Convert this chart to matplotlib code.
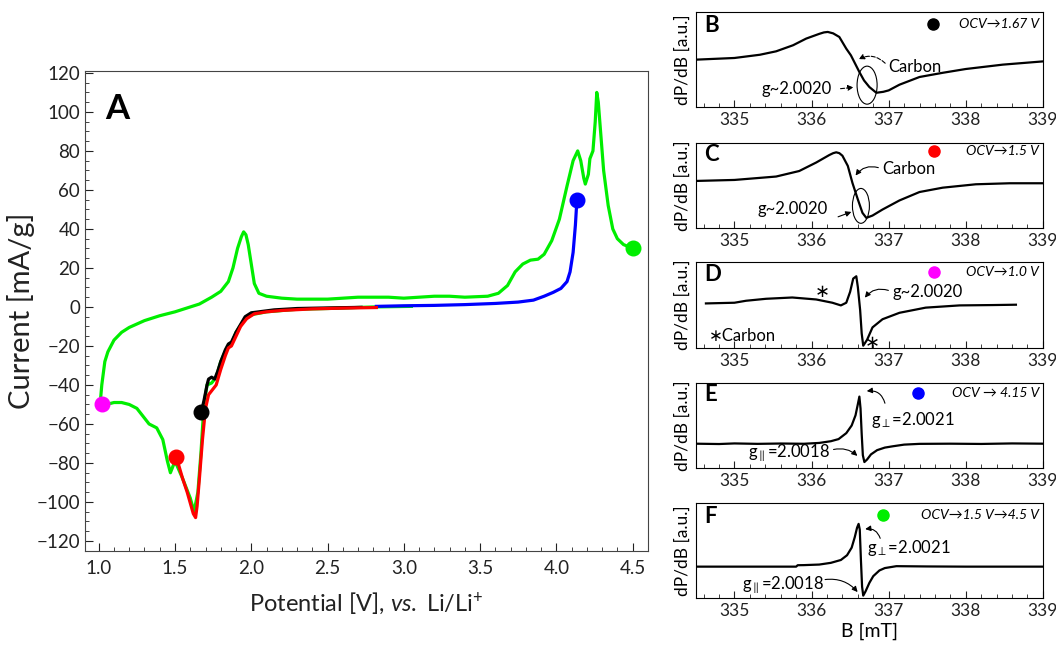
import matplotlib
matplotlib.use("Agg")
import matplotlib.pyplot as plt
from matplotlib.patches import Ellipse
from matplotlib.ticker import MultipleLocator

plt.rcParams["font.family"] = ["Lato", "DejaVu Sans"]
plt.rcParams["mathtext.fontset"] = "custom"
plt.rcParams["mathtext.rm"] = "Lato"
plt.rcParams["mathtext.it"] = "Lato:italic"

# ---- panel A: cyclic voltammetry ----
green_v = [3.05, 2.8, 2.5, 2.3, 2.1, 2.0, 1.95, 1.9, 1.87, 1.84, 1.8, 1.77, 1.74, 1.71, 1.69,
           1.67, 1.65, 1.625, 1.6, 1.55, 1.5, 1.47, 1.45, 1.42, 1.38, 1.33, 1.3, 1.25, 1.2,
           1.15, 1.1, 1.05, 1.02, 1.01, 1.02, 1.04, 1.06, 1.1, 1.15, 1.2, 1.3, 1.4, 1.5, 1.6,
           1.66, 1.74, 1.8, 1.85, 1.88, 1.91, 1.935, 1.95, 1.965, 1.98, 2.0, 2.02, 2.05, 2.1,
           2.2, 2.3, 2.5, 2.7, 2.9, 3.0, 3.2, 3.3, 3.4, 3.55, 3.62, 3.68, 3.73, 3.78, 3.83,
           3.88, 3.92, 3.97, 4.02, 4.07, 4.11, 4.14, 4.16, 4.18, 4.19, 4.21, 4.22, 4.24,
           4.255, 4.265, 4.275, 4.29, 4.31, 4.34, 4.37, 4.4, 4.44, 4.5]
green_i = [0.3, 0, -0.8, -1.2, -2.5, -4, -7, -13, -19, -21, -28, -36, -39, -40, -50,
           -75, -95, -105, -98, -88, -79, -85, -79, -68, -62, -60, -57, -52, -50,
           -49, -49, -50, -50, -49, -40, -28, -23, -17, -13, -10.5, -7, -4.5, -2.5, 0,
           1.5, 5, 8, 13, 20, 30, 36, 38.5, 37, 32, 22, 12, 7, 5.5,
           4.5, 4, 4, 5, 5, 4.5, 5.5, 5.5, 5, 5.5, 7, 11, 18, 22, 24,
           24.5, 27, 34, 45, 62, 75, 80, 75, 66, 63, 68, 76, 80,
           95, 110, 105, 90, 70, 52, 40, 35, 32, 30]

blue_v = [2.82, 3.0, 3.2, 3.4, 3.6, 3.75, 3.85, 3.92, 3.98, 4.03, 4.07, 4.09, 4.11, 4.125, 4.135]
blue_i = [0.3, 0.6, 0.8, 1.2, 1.8, 2.5, 3.5, 5.5, 7.5, 9.5, 13, 18, 28, 42, 55]

black_v = [2.72, 2.5, 2.3, 2.15, 2.05, 2.0, 1.96, 1.93, 1.9, 1.87, 1.85, 1.83, 1.8, 1.78,
           1.76, 1.74, 1.72, 1.71, 1.69, 1.672]
black_i = [-0.2, -0.5, -0.8, -1.5, -2.5, -3, -5, -9, -13, -18, -19, -22, -28, -33,
           -37, -36, -37, -40, -48, -54]

red_v = [2.82, 2.6, 2.4, 2.2, 2.1, 2.02, 1.97, 1.93, 1.9, 1.87, 1.85, 1.83, 1.8, 1.77,
         1.74, 1.72, 1.7, 1.68, 1.66, 1.645, 1.635, 1.62, 1.58, 1.55, 1.52, 1.506]
red_i = [-0.3, -0.6, -1, -1.8, -2.5, -3.5, -6, -10, -15, -20, -21, -25, -32, -40,
         -43, -45, -52, -68, -88, -102, -108, -106, -95, -88, -80, -77]

# end points of each scan (dots)
dot_v = [1.672, 1.506, 1.022, 4.135, 4.5]
dot_i = [-54, -77, -50, 55, 30]
dot_colors = ["black", "red", "#ff00ff", "blue", "#00ee00"]

# ---- EPR spectra (a.u., 0 = bottom, 100 = top) ----
b_field_B = [334.49, 335.0, 335.33, 335.54, 335.76, 335.93, 336.1, 336.16, 336.21, 336.28,
             336.36, 336.45, 336.51, 336.62, 336.68, 336.75, 336.84, 336.93, 337.0, 337.14,
             337.4, 337.7, 338.0, 338.48, 339.0]
epr_B = [49.8, 51.6, 55, 58.6, 65, 72, 77, 78.5, 79, 77.5,
         73.7, 61.4, 54.4, 36.8, 28, 21, 15, 16, 17.5, 23.5,
         31.6, 36, 40, 44.6, 48]

b_field_C = [334.49, 335.0, 335.54, 335.84, 336.06, 336.23, 336.28, 336.32, 336.36, 336.4,
             336.47, 336.53, 336.6, 336.66, 336.71, 336.79, 336.92, 337.14, 337.4, 337.7,
             338.13, 338.57, 339.0]
epr_C = [55.3, 56.5, 60.5, 67, 77, 85.8, 88, 89, 88, 85,
         73, 53, 33.6, 17.8, 11.9, 14.6, 21.7, 32.4, 42.3, 47.4,
         51.4, 52.6, 52.6]

b_field_D = [334.63, 335.0, 335.15, 335.41, 335.75, 336.06, 336.27, 336.38, 336.45, 336.5,
             336.54, 336.58, 336.6, 336.63, 336.65, 336.67, 336.72, 336.79, 336.92, 337.14,
             337.48, 337.92, 338.35, 338.65]
epr_D = [51.9, 52.7, 55, 57.3, 58.8, 56.5, 52.7, 49.6, 52.7, 65.4,
         80.8, 83.5, 71, 44, 17, 2.7, 9.6, 24, 33.5, 41,
         47, 49.6, 50, 50.4]

b_field_E = [334.49, 334.8, 335.0, 335.3, 335.6, 335.9, 336.1, 336.25, 336.35, 336.45,
             336.52, 336.57, 336.6, 336.62, 336.635, 336.65, 336.665, 336.685, 336.72,
             336.77, 336.85, 336.95, 337.05, 337.2, 337.4, 337.8, 338.2, 338.6, 339.0]
epr_E = [28.6, 28.2, 28.9, 28.4, 28.8, 28.5, 29.5, 31.5, 34, 41,
         50, 62, 75, 84, 70, 40, 15, 7, 10,
         16, 21, 24, 25.5, 27.5, 28.4, 28.6, 28.3, 28.9, 28.6]

b_field_F = [334.49, 335.0, 335.5, 335.8, 335.82, 335.9, 336.1, 336.25, 336.38, 336.46,
             336.52, 336.56, 336.59, 336.61, 336.625, 336.64, 336.655, 336.67, 336.7,
             336.75, 336.8, 336.88, 336.95, 337.1, 337.5, 338.0, 339.0]
epr_F = [33, 33, 33, 33, 34.5, 34.6, 35.2, 37, 40, 45,
         53, 64, 74, 78, 72, 40, 12, 2.5, 7,
         16, 23, 29, 31.5, 33.5, 33.2, 33, 33]

fig = plt.figure(figsize=(10.56, 6.51), dpi=100)

# panel A
ax = fig.add_axes([0.0805, 0.154, 0.533, 0.737])
lw = 2.3
ax.plot(green_v, green_i, color="#00ee00", lw=lw)
ax.plot(blue_v, blue_i, color="blue", lw=lw)
ax.plot(black_v, black_i, color="black", lw=lw)
ax.plot(red_v, red_i, color="red", lw=lw)
for v, i, c in zip(dot_v, dot_i, dot_colors):
    ax.plot(v, i, "o", color=c, ms=10.5, zorder=5)
ax.set_xlim(0.91, 4.6)
ax.set_ylim(-125, 121)
ax.set_xticks([1.0, 1.5, 2.0, 2.5, 3.0, 3.5, 4.0, 4.5])
ax.set_yticks(range(-120, 121, 20))
ax.xaxis.set_minor_locator(MultipleLocator(0.1))
ax.yaxis.set_minor_locator(MultipleLocator(5))
ax.tick_params(direction="in", which="both", labelsize=13.5, colors="#222222")
ax.tick_params(which="major", length=6)
ax.tick_params(which="minor", length=3)
ax.tick_params(axis="x", pad=7)
for s in ax.spines.values():
    s.set_color("#444444")
ax.set_xlabel("Potential [V], $\\mathit{vs.}$ Li/Li$^{+}$", fontsize=17, color="#222222",
              labelpad=10)
ax.set_ylabel("Current [mA/g]", fontsize=21, color="#222222", labelpad=1)
ax.text(0.035, 0.955, "A", transform=ax.transAxes, fontsize=25, fontweight="bold", va="top")

# panels B-F
panels = [
    ("B", b_field_B, epr_B, 0.8356, 0.146, "black", 337.57, 0.87, "OCV\u21921.67 V"),
    ("C", b_field_C, epr_C, 0.6498, 0.1306, "red", 337.59, 0.9, "OCV\u21921.5 V"),
    ("D", b_field_D, epr_D, 0.4654, 0.132, "#ff00ff", 337.59, 0.88, "OCV\u21921.0 V"),
    ("E", b_field_E, epr_E, 0.2811, 0.1306, "blue", 337.38, 0.88, "OCV \u2192 4.15 V"),
    ("F", b_field_F, epr_F, 0.0814, 0.146, "#00ee00", 336.92, 0.87, "OCV\u21921.5 V\u21924.5 V"),
]
axes = {}
for name, bx, by, bottom, height, col, dx, dy, label in panels:
    a = fig.add_axes([0.659, bottom, 0.3286, height])
    a.plot(bx, by, color="black", lw=1.6)
    a.set_xlim(334.5, 339)
    a.set_ylim(0, 100)
    a.set_yticks([])
    a.set_xticks([335, 336, 337, 338, 339])
    a.xaxis.set_minor_locator(MultipleLocator(0.2))
    a.tick_params(direction="in", which="both", labelsize=12.5, colors="#222222")
    a.tick_params(which="major", length=5)
    a.tick_params(which="minor", length=3)
    a.set_ylabel("dP/dB [a.u.]", fontsize=12.5, labelpad=4)
    a.text(0.025, 0.86, name, transform=a.transAxes, fontsize=16, fontweight="bold", va="center")
    a.plot(dx, dy, "o", color=col, ms=8, transform=a.get_xaxis_transform(), clip_on=False)
    a.text(338.95, dy, label, transform=a.get_xaxis_transform(), ha="right", va="center",
           fontsize=10, style="italic")
    axes[name] = a

a = axes["B"]
a.text(337.0, 42, "Carbon", fontsize=12, va="center")
a.annotate("", xy=(336.58, 49), xytext=(336.98, 44),
           arrowprops=dict(arrowstyle="-|>", lw=0.8, ls="--", color="black",
                           connectionstyle="arc3,rad=0.4", mutation_scale=8))
a.add_patch(Ellipse((336.72, 23), 0.26, 40, fill=False, lw=0.8, color="black"))
a.text(335.35, 19, "g~2.0020", fontsize=12, va="center")
a.annotate("", xy=(336.58, 21), xytext=(336.34, 19),
           arrowprops=dict(arrowstyle="-|>", lw=0.8, ls="--", color="black", mutation_scale=8))

a = axes["C"]
a.text(336.92, 69, "Carbon", fontsize=12, va="center")
a.annotate("", xy=(336.55, 59), xytext=(336.9, 70),
           arrowprops=dict(arrowstyle="-|>", lw=0.8, color="black",
                           connectionstyle="arc3,rad=0.4", mutation_scale=8))
a.add_patch(Ellipse((336.64, 26), 0.22, 41, fill=False, lw=0.8, color="black"))
a.text(335.3, 22, "g~2.0020", fontsize=12, va="center")
a.annotate("", xy=(336.55, 20), xytext=(336.31, 12),
           arrowprops=dict(arrowstyle="-|>", lw=0.8, color="black", mutation_scale=8))

a = axes["D"]
a.text(336.14, 65, "\u2217", fontsize=13, ha="center", va="center")
a.text(336.79, 6, "\u2217", fontsize=13, ha="center", va="center")
a.text(337.05, 65, "g~2.0020", fontsize=12, va="center")
a.annotate("", xy=(336.67, 56), xytext=(337.03, 66),
           arrowprops=dict(arrowstyle="-|>", lw=0.8, color="black",
                           connectionstyle="arc3,rad=0.4", mutation_scale=8))
a.text(334.67, 14, "\u2217Carbon", fontsize=12, va="center")

a = axes["E"]
a.text(336.77, 57, "g$_{\\perp}$=2.0021", fontsize=12, va="center")
a.annotate("", xy=(336.68, 90), xytext=(336.96, 73),
           arrowprops=dict(arrowstyle="-|>", lw=0.8, color="black",
                           connectionstyle="arc3,rad=0.5", mutation_scale=8))
a.text(335.17, 18, "g$_{\\parallel}$=2.0018", fontsize=12, va="center")
a.annotate("", xy=(336.62, 12), xytext=(336.25, 21),
           arrowprops=dict(arrowstyle="-|>", lw=0.8, color="black",
                           connectionstyle="arc3,rad=-0.3", mutation_scale=8))

a = axes["F"]
a.text(336.72, 53, "g$_{\\perp}$=2.0021", fontsize=12, va="center")
a.annotate("", xy=(336.66, 72), xytext=(336.9, 60),
           arrowprops=dict(arrowstyle="-|>", lw=0.8, color="black",
                           connectionstyle="arc3,rad=0.5", mutation_scale=8))
a.text(335.1, 14, "g$_{\\parallel}$=2.0018", fontsize=12, va="center")
a.annotate("", xy=(336.62, 4), xytext=(336.14, 19),
           arrowprops=dict(arrowstyle="-|>", lw=0.8, color="black",
                           connectionstyle="arc3,rad=-0.3", mutation_scale=8))
a.set_xlabel("B [mT]", fontsize=14, labelpad=3)

fig.savefig("out.png", dpi=100)
